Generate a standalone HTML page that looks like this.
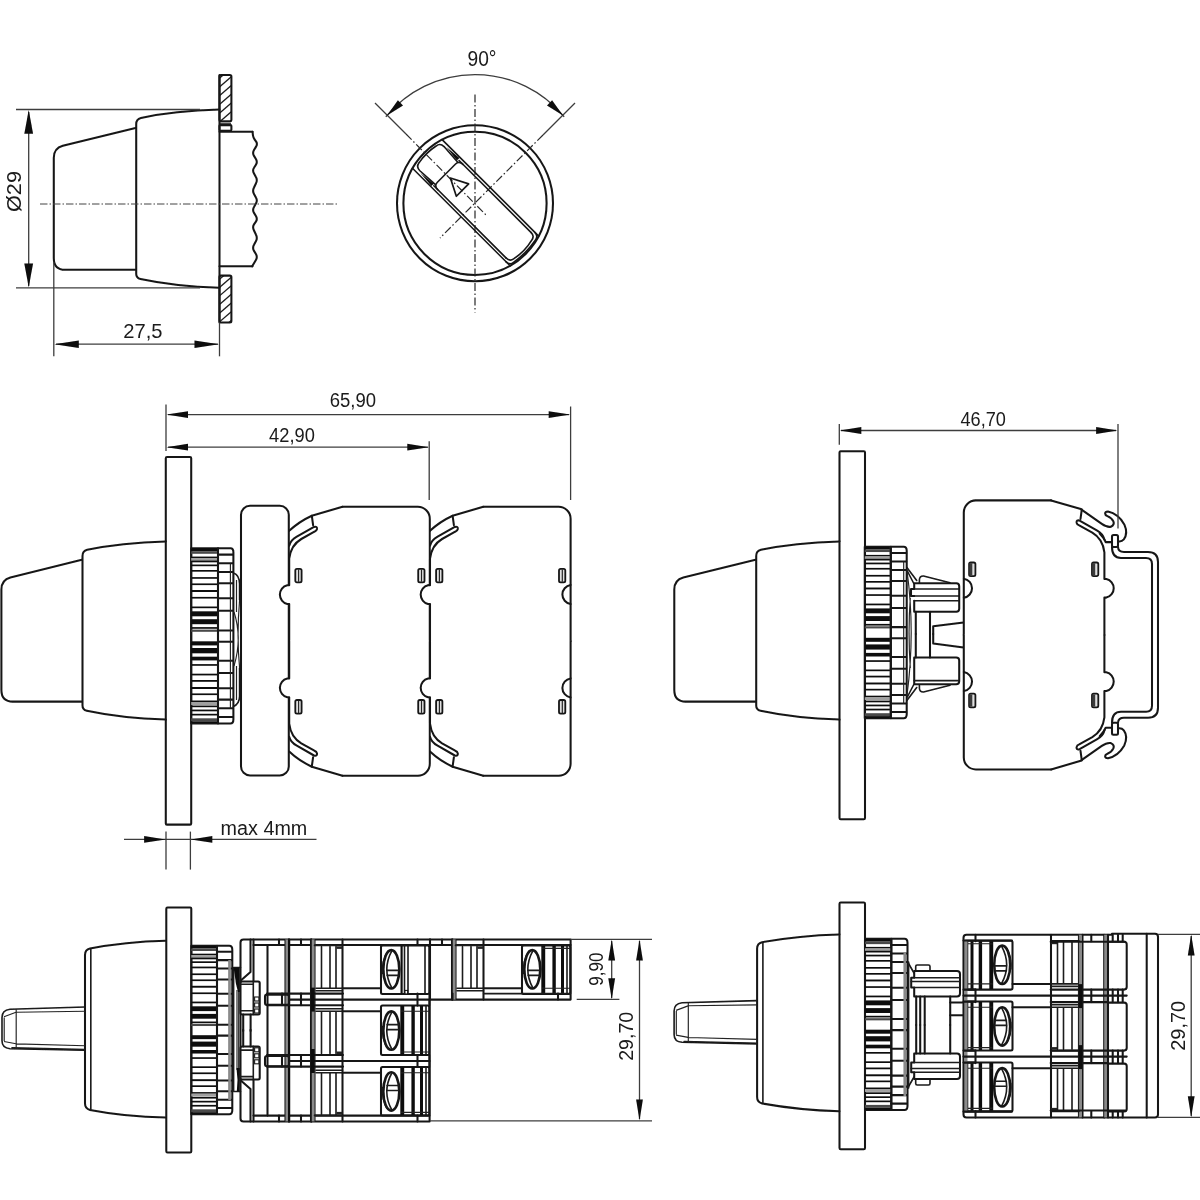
<!DOCTYPE html>
<html><head><meta charset="utf-8"><title>Dimensions</title>
<style>
html,body{margin:0;padding:0;background:#fff;}
svg{display:block}
.k{fill:none;stroke:#171717;stroke-width:2.05;stroke-linejoin:round;stroke-linecap:round}
.kf{fill:#fff;stroke:#171717;stroke-width:2.05;stroke-linejoin:round}
.m{fill:none;stroke:#1a1a1a;stroke-width:1.6;stroke-linejoin:round;stroke-linecap:round}
.n{fill:none;stroke:#222;stroke-width:1.15}
.t{fill:none;stroke:#3c3c3c;stroke-width:1.3}
.c{fill:none;stroke:#444;stroke-width:1;stroke-dasharray:7.5 2 1.5 2}
.c2{fill:none;stroke:#2a2a2a;stroke-width:1.2;stroke-dasharray:8 2.5 1.5 2.5}
.h1{fill:none;stroke:#161616;stroke-width:1.6;stroke-linejoin:round;stroke-linecap:round}
.h2{fill:none;stroke:#161616;stroke-width:1.7;stroke-linejoin:round}
.a{fill:#0a0a0a;stroke:none}
.b{fill:#111;stroke:none}
.g{fill:#555;stroke:none}
.h{fill:none;stroke:#222;stroke-width:1}
text{font-family:"Liberation Sans",sans-serif;fill:#1a1a1a}
</style></head><body>
<svg width="1200" height="1200" viewBox="0 0 1200 1200">
<rect x="0" y="0" width="1200" height="1200" fill="#fff"/>
<defs><filter id="soft" x="0" y="0" width="1200" height="1200" filterUnits="userSpaceOnUse"><feGaussianBlur stdDeviation="0.45"/></filter></defs>
<g filter="url(#soft)">
<g transform="translate(219.5,-431.8)">
<path class="k" d="M-84,559.7 L-156.7,577.5 Q-165.7,580 -165.7,589.5 V690 Q-165.7,701.6 -154.2,701.6 H-84"/>
<path class="k" d="M0,541.4 Q-45,542.6 -78.6,549.8 Q-83.3,550.9 -83.3,556 V705.5 Q-83.3,709.8 -79,710.7 Q-45,718 0,719.6"/>
</g>
<defs><clipPath id="cp1"><rect x="219.4" y="75" width="12" height="46.3"/></clipPath><clipPath id="cp2"><rect x="219.4" y="275.6" width="12" height="46.8"/></clipPath></defs>
<g clip-path="url(#cp1)">
<path d="M217.3,80.1 L233.3,66.3" stroke="#1c1c1c" stroke-width="1.3" fill="none"/>
<path d="M217.3,88.9 L233.3,75.1" stroke="#1c1c1c" stroke-width="1.3" fill="none"/>
<path d="M217.3,97.6 L233.3,83.8" stroke="#1c1c1c" stroke-width="1.3" fill="none"/>
<path d="M217.3,106.4 L233.3,92.6" stroke="#1c1c1c" stroke-width="1.3" fill="none"/>
<path d="M217.3,115.1 L233.3,101.3" stroke="#1c1c1c" stroke-width="1.3" fill="none"/>
<path d="M217.3,123.9 L233.3,110.1" stroke="#1c1c1c" stroke-width="1.3" fill="none"/>
<path d="M217.3,132.7 L233.3,118.9" stroke="#1c1c1c" stroke-width="1.3" fill="none"/>
</g>
<g clip-path="url(#cp2)">
<path d="M217.3,281.2 L233.3,267.4" stroke="#1c1c1c" stroke-width="1.3" fill="none"/>
<path d="M217.3,289.3 L233.3,275.5" stroke="#1c1c1c" stroke-width="1.3" fill="none"/>
<path d="M217.3,297.7 L233.3,283.9" stroke="#1c1c1c" stroke-width="1.3" fill="none"/>
<path d="M217.3,306.4 L233.3,292.6" stroke="#1c1c1c" stroke-width="1.3" fill="none"/>
<path d="M217.3,315.1 L233.3,301.3" stroke="#1c1c1c" stroke-width="1.3" fill="none"/>
<path d="M217.3,323.7 L233.3,309.9" stroke="#1c1c1c" stroke-width="1.3" fill="none"/>
<path d="M217.3,332.5 L233.3,318.7" stroke="#1c1c1c" stroke-width="1.3" fill="none"/>
</g>
<rect class="k" x="219.4" y="75.0" width="12.0" height="46.3" rx="1.5"/>
<rect class="k" x="219.4" y="275.6" width="12.0" height="46.8" rx="1.5"/>
<rect class="k" x="219.4" y="125.1" width="12.0" height="5.7" rx="1"/>
<path class="t" d="M220.0,123.3L231.0,123.3"/>
<path class="k" d="M219.5,75.0L219.5,322.5"/>
<path class="k" d="M219.5,131.7 H252.5"/>
<path class="k" d="M219.5,266.3 H252.5"/>
<path class="k" d="M252.5,131.7 L253.0,135.6 Q253.3,137.5 254.7,139.6 L256.3,141.9 Q257.7,144.0 255.9,146.9 L254.0,150.1 Q252.2,153.0 254.0,155.9 L255.9,159.1 Q257.7,162.0 255.9,164.7 L254.0,167.8 Q252.2,170.5 254.0,173.5 L255.9,177.0 Q257.7,180.0 255.9,183.5 L254.0,187.5 Q252.2,191.0 254.0,194.0 L255.9,197.5 Q257.7,200.5 255.9,203.5 L254.0,207.0 Q252.2,210.0 254.0,212.9 L255.9,216.1 Q257.7,219.0 255.9,221.6 L254.0,224.4 Q252.2,227.0 254.0,230.5 L255.9,234.5 Q257.7,238.0 255.9,241.2 L254.0,244.8 Q252.2,248.0 254.0,250.9 L255.9,254.1 Q257.7,257.0 255.9,260.0 L252.2,266.3"/>
<path class="c" d="M40.0,204.0L337.5,204.0"/>
<path class="t" d="M16.0,109.5L200.0,109.5"/>
<path class="t" d="M16.0,287.8L200.0,287.8"/>
<path class="t" d="M28.7,112.0L28.7,286.0"/>
<polygon class="a" points="28.7,110.0 33.1,133.7 24.3,133.7"/>
<polygon class="a" points="28.7,287.3 24.3,263.6 33.1,263.6"/>
<text x="20.6" y="212" font-size="21" textLength="41" lengthAdjust="spacingAndGlyphs" transform="rotate(-90 20.6 212)" text-anchor="start">Ø29</text>
<path class="t" d="M53.8,262.0L53.8,356.3"/>
<path class="t" d="M219.5,322.5L219.5,356.3"/>
<path class="t" d="M56.0,344.2L218.0,344.2"/>
<polygon class="a" points="54.3,344.2 78.8,340.4 78.8,348.0"/>
<polygon class="a" points="219.0,344.2 194.5,348.0 194.5,340.4"/>
<text x="123.3" y="337.5" font-size="21" textLength="39.2" lengthAdjust="spacingAndGlyphs" text-anchor="start">27,5</text>
<circle class="k" cx="475" cy="203.3" r="78"/>
<circle class="k" cx="475" cy="203.3" r="71.6"/>
<path class="c2" d="M475.0,94.5L475.0,312.5"/>
<path class="t" d="M375.0,103.0L406.0,134.0"/>
<path class="c2" d="M406,134 L486,215"/>
<path class="t" d="M575.0,103.0L543.0,135.0"/>
<path class="c2" d="M543,135 L440,238"/>
<path class="t" d="M385.8,116.8 L387,115.5 A115 115 0 0 1 563,115.5 L564.2,116.8"/>
<polygon class="a" points="387.0,115.6 397.9,100.2 403.0,105.5"/>
<polygon class="a" points="563.0,115.6 547.0,105.5 552.1,100.2"/>
<text x="467.5" y="65.6" font-size="21.5" textLength="29" lengthAdjust="spacingAndGlyphs" text-anchor="start">90°</text>
<g transform="translate(475,203.3) rotate(45)">
<path class="h1" d="M-68.3,-21.8 H68.2 M-69,19.4 H69"/>
<path class="h1" d="M-41.5,-19 H60.5 M-41.5,16.7 H60.5"/>
<path class="h1" d="M60.5,-19 Q65.5,-19 66.2,-14 Q69.5,-1 66.6,12 Q65.8,16.7 60.5,16.7"/>
<path class="h1" d="M63,-21.8 Q68.2,-21.6 68.8,-16.5 Q71.6,-1 69,14.5 Q68.5,19.4 63,19.4"/>
<path class="h1" d="M-36,-19 Q-41.5,-19 -41.5,-14 V11.7 Q-41.5,16.7 -36,16.7"/>
<path class="h1" d="M-41.5,-16.8 L-62,-18.2 Q-67.5,-18.2 -68,-13 Q-70.5,-1 -68.2,11 Q-67.5,16 -62,16 L-41.5,14.8"/>
<polygon class="b" points="-60,-19.6 -43,-21 -43,-17.4"/>
<polygon class="b" points="-60,17.3 -43,18.7 -43,15.2"/>
<path class="h2" d="M-35.3,-0.5 L-18.2,-9.2 L-18.2,8.2 Z"/>
</g>
<g transform="translate(165.8,0)">
<path class="k" d="M-84,559.7 L-155.4,577.5 Q-164.4,580 -164.4,589.5 V690 Q-164.4,701.6 -152.9,701.6 H-84"/>
<path class="k" d="M0,541.4 Q-45,542.6 -78.6,549.8 Q-83.3,550.9 -83.3,556 V705.5 Q-83.3,709.8 -79,710.7 Q-45,718 0,719.6"/>
</g>
<rect class="k" x="165.8" y="457.0" width="25.4" height="367.6" rx="1.2"/>
<rect class="k" x="191.2" y="548.3" width="26.8" height="175.2"/>
<rect x="191.2" y="548.3" width="26.8" height="2.90" fill="#111"/>
<rect x="191.2" y="551.2" width="26.8" height="2.60" fill="#4a4a4a"/>
<rect x="191.2" y="556.6" width="26.8" height="1.70" fill="#111"/>
<rect x="191.2" y="558.0" width="26.8" height="3.00" fill="#a0a0a0"/>
<rect x="191.2" y="560.6" width="26.8" height="1.70" fill="#111"/>
<rect x="191.2" y="564.5" width="26.8" height="1.70" fill="#111"/>
<rect x="191.2" y="570.0" width="26.8" height="1.70" fill="#111"/>
<rect x="191.2" y="577.1" width="26.8" height="1.70" fill="#111"/>
<rect x="191.2" y="583.4" width="26.8" height="1.70" fill="#111"/>
<rect x="191.2" y="590.0" width="26.8" height="2.00" fill="#111"/>
<rect x="191.2" y="596.9" width="26.8" height="1.70" fill="#111"/>
<rect x="191.2" y="606.5" width="26.8" height="1.70" fill="#111"/>
<rect x="191.2" y="611.3" width="26.8" height="5.00" fill="#111"/>
<rect x="191.2" y="619.2" width="26.8" height="5.00" fill="#111"/>
<rect x="191.2" y="627.1" width="26.8" height="1.70" fill="#111"/>
<rect x="191.2" y="629.6" width="26.8" height="2.20" fill="#4a4a4a"/>
<rect x="191.2" y="641.3" width="26.8" height="4.10" fill="#111"/>
<rect x="191.2" y="648.0" width="26.8" height="5.30" fill="#111"/>
<rect x="191.2" y="656.7" width="26.8" height="3.70" fill="#111"/>
<rect x="191.2" y="664.1" width="26.8" height="1.70" fill="#111"/>
<rect x="191.2" y="673.7" width="26.8" height="1.70" fill="#111"/>
<rect x="191.2" y="680.0" width="26.8" height="1.80" fill="#111"/>
<rect x="191.2" y="687.0" width="26.8" height="2.00" fill="#111"/>
<rect x="191.2" y="693.4" width="26.8" height="1.70" fill="#111"/>
<rect x="191.2" y="700.5" width="26.8" height="1.70" fill="#111"/>
<rect x="191.2" y="702.0" width="26.8" height="3.00" fill="#a0a0a0"/>
<rect x="191.2" y="705.5" width="26.8" height="1.70" fill="#111"/>
<rect x="191.2" y="709.6" width="26.8" height="1.70" fill="#111"/>
<rect x="191.2" y="713.8" width="26.8" height="1.70" fill="#111"/>
<rect x="191.2" y="718.3" width="26.8" height="3.00" fill="#4a4a4a"/>
<rect x="191.2" y="721.3" width="26.8" height="2.20" fill="#111"/>
<path class="k" d="M218,548.3 H230.4 Q233.4,548.3 233.4,552.3 V719.5 Q233.4,723.5 230.4,723.5 H218 Z"/>
<path class="k" d="M218.0,554.6L232.9,554.6"/>
<path class="k" d="M218.0,563.3L232.9,563.3"/>
<path class="k" d="M218.0,572.0L232.9,572.0"/>
<path class="k" d="M218.0,583.3L232.9,583.3"/>
<path class="k" d="M218.0,598.3L232.9,598.3"/>
<path class="k" d="M218.0,610.8L232.9,610.8"/>
<path class="k" d="M218.0,630.4L232.9,630.4"/>
<path class="k" d="M218.0,641.7L232.9,641.7"/>
<path class="k" d="M218.0,660.8L232.9,660.8"/>
<path class="k" d="M218.0,673.0L232.9,673.0"/>
<path class="k" d="M218.0,688.3L232.9,688.3"/>
<path class="k" d="M218.0,699.6L232.9,699.6"/>
<path class="k" d="M218.0,708.3L232.9,708.3"/>
<path class="k" d="M218.0,717.0L232.9,717.0"/>
<path class="n" d="M230.4,563.3L230.4,708.3"/>
<path class="m" d="M233.4,573 Q239.5,575 239.6,584 V600 M233.4,706.5 Q239.5,704 239.6,696 V668"/>
<path class="n" d="M234,612 Q242.5,638 234,666 M239.6,600 Q236.5,636 239.6,668"/>
<path class="n" d="M236.5,580 V612 M236.5,666 V700"/>
<rect class="k" x="241.0" y="505.8" width="47.8" height="269.6" rx="9"/>
<g transform="translate(288.8,506.7) scale(1,1)">
<path d="M1.3,135 V97 H-1.5 A9.3 9.3 0 0 1 -1.5,78.5 H1.3 V25 Q10,15 23,9 L53.7,0 H129 A12 12 0 0 1 141,12 V135 Z" fill="#fff" stroke="none"/>
<path class="k" d="M53.7,0 H129 A12 12 0 0 1 141,12 V134.5"/>
<path class="k" d="M53.7,0 L23,9 Q10,15 0.4,24.1"/>
<path class="k" d="M23,9 L24.3,18.5"/>
<path class="k" d="M0.4,39 Q1.8,33.5 8,30 L25.2,20.2 Q28.6,19.3 28.2,22.3 Q27.8,24.2 25.6,25 L12.5,32.3 Q2,38.5 0.4,52 V78.5 H-1.5 A9.6 9.6 0 0 0 -1.5,97.2 H0.4 V134.5"/>
<path class="k" d="M141,78.3 A9.6 9.6 0 0 0 141,97.3"/>
<rect x="6.5" y="62.1" width="6.3" height="13.6" rx="1.6" fill="#e0e0e0" stroke="#171717" stroke-width="1.8"/>
<path class="n" d="M9.8,62.8L9.8,75.0"/>
<rect x="129.4" y="62.1" width="6.3" height="13.6" rx="1.6" fill="#e0e0e0" stroke="#171717" stroke-width="1.8"/>
<path class="n" d="M132.7,62.8L132.7,75.0"/>
<g transform="translate(0,269) scale(1,-1)">
<path d="M1.3,135 V97 H-1.5 A9.3 9.3 0 0 1 -1.5,78.5 H1.3 V25 Q10,15 23,9 L53.7,0 H129 A12 12 0 0 1 141,12 V135 Z" fill="#fff" stroke="none"/>
<path class="k" d="M53.7,0 H129 A12 12 0 0 1 141,12 V134.5"/>
<path class="k" d="M53.7,0 L23,9 Q10,15 0.4,24.1"/>
<path class="k" d="M23,9 L24.3,18.5"/>
<path class="k" d="M0.4,39 Q1.8,33.5 8,30 L25.2,20.2 Q28.6,19.3 28.2,22.3 Q27.8,24.2 25.6,25 L12.5,32.3 Q2,38.5 0.4,52 V78.5 H-1.5 A9.6 9.6 0 0 0 -1.5,97.2 H0.4 V134.5"/>
<path class="k" d="M141,78.3 A9.6 9.6 0 0 0 141,97.3"/>
<rect x="6.5" y="62.1" width="6.3" height="13.6" rx="1.6" fill="#e0e0e0" stroke="#171717" stroke-width="1.8"/>
<path class="n" d="M9.8,62.8L9.8,75.0"/>
<rect x="129.4" y="62.1" width="6.3" height="13.6" rx="1.6" fill="#e0e0e0" stroke="#171717" stroke-width="1.8"/>
<path class="n" d="M132.7,62.8L132.7,75.0"/>
</g></g>
<g transform="translate(429.6,506.7) scale(1,1)">
<path d="M1.3,135 V97 H-1.5 A9.3 9.3 0 0 1 -1.5,78.5 H1.3 V25 Q10,15 23,9 L53.7,0 H129 A12 12 0 0 1 141,12 V135 Z" fill="#fff" stroke="none"/>
<path class="k" d="M53.7,0 H129 A12 12 0 0 1 141,12 V134.5"/>
<path class="k" d="M53.7,0 L23,9 Q10,15 0.4,24.1"/>
<path class="k" d="M23,9 L24.3,18.5"/>
<path class="k" d="M0.4,39 Q1.8,33.5 8,30 L25.2,20.2 Q28.6,19.3 28.2,22.3 Q27.8,24.2 25.6,25 L12.5,32.3 Q2,38.5 0.4,52 V78.5 H-1.5 A9.6 9.6 0 0 0 -1.5,97.2 H0.4 V134.5"/>
<path class="k" d="M141,78.3 A9.6 9.6 0 0 0 141,97.3"/>
<rect x="6.5" y="62.1" width="6.3" height="13.6" rx="1.6" fill="#e0e0e0" stroke="#171717" stroke-width="1.8"/>
<path class="n" d="M9.8,62.8L9.8,75.0"/>
<rect x="129.4" y="62.1" width="6.3" height="13.6" rx="1.6" fill="#e0e0e0" stroke="#171717" stroke-width="1.8"/>
<path class="n" d="M132.7,62.8L132.7,75.0"/>
<g transform="translate(0,269) scale(1,-1)">
<path d="M1.3,135 V97 H-1.5 A9.3 9.3 0 0 1 -1.5,78.5 H1.3 V25 Q10,15 23,9 L53.7,0 H129 A12 12 0 0 1 141,12 V135 Z" fill="#fff" stroke="none"/>
<path class="k" d="M53.7,0 H129 A12 12 0 0 1 141,12 V134.5"/>
<path class="k" d="M53.7,0 L23,9 Q10,15 0.4,24.1"/>
<path class="k" d="M23,9 L24.3,18.5"/>
<path class="k" d="M0.4,39 Q1.8,33.5 8,30 L25.2,20.2 Q28.6,19.3 28.2,22.3 Q27.8,24.2 25.6,25 L12.5,32.3 Q2,38.5 0.4,52 V78.5 H-1.5 A9.6 9.6 0 0 0 -1.5,97.2 H0.4 V134.5"/>
<path class="k" d="M141,78.3 A9.6 9.6 0 0 0 141,97.3"/>
<rect x="6.5" y="62.1" width="6.3" height="13.6" rx="1.6" fill="#e0e0e0" stroke="#171717" stroke-width="1.8"/>
<path class="n" d="M9.8,62.8L9.8,75.0"/>
<rect x="129.4" y="62.1" width="6.3" height="13.6" rx="1.6" fill="#e0e0e0" stroke="#171717" stroke-width="1.8"/>
<path class="n" d="M132.7,62.8L132.7,75.0"/>
</g></g>
<path class="t" d="M166.0,404.5L166.0,451.0"/>
<path class="t" d="M429.2,441.3L429.2,500.0"/>
<path class="t" d="M570.6,406.5L570.6,500.0"/>
<path class="t" d="M168.0,414.6L569.0,414.6"/>
<path class="t" d="M168.0,447.2L428.0,447.2"/>
<polygon class="a" points="166.5,414.6 188.0,411.2 188.0,418.0"/>
<polygon class="a" points="570.2,414.6 548.7,418.0 548.7,411.2"/>
<polygon class="a" points="166.5,447.2 188.0,443.8 188.0,450.6"/>
<polygon class="a" points="428.8,447.2 407.3,450.6 407.3,443.8"/>
<text x="329.8" y="406.6" font-size="19.5" textLength="46.3" lengthAdjust="spacingAndGlyphs" text-anchor="start">65,90</text>
<text x="269.1" y="441.7" font-size="19.5" textLength="45.7" lengthAdjust="spacingAndGlyphs" text-anchor="start">42,90</text>
<path class="t" d="M124.0,839.4L316.5,839.4"/>
<path class="t" d="M166.0,831.6L166.0,869.6"/>
<path class="t" d="M190.4,831.6L190.4,869.6"/>
<polygon class="a" points="165.6,839.4 144.1,842.8 144.1,836.0"/>
<polygon class="a" points="190.8,839.4 212.3,836.0 212.3,842.8"/>
<text x="220.6" y="835.4" font-size="19.5" textLength="86.7" lengthAdjust="spacingAndGlyphs" text-anchor="start">max 4mm</text>
<g transform="translate(839.5,0)">
<path class="k" d="M-84,559.7 L-156.2,577.5 Q-165.2,580 -165.2,589.5 V690 Q-165.2,701.6 -153.7,701.6 H-84"/>
<path class="k" d="M0,541.4 Q-45,542.6 -78.6,549.8 Q-83.3,550.9 -83.3,556 V705.5 Q-83.3,709.8 -79,710.7 Q-45,718 0,719.6"/>
</g>
<rect class="k" x="839.5" y="451.3" width="25.5" height="368.0" rx="1.2"/>
<rect class="k" x="864.8" y="546.7" width="26.0" height="171.6"/>
<rect x="864.8" y="546.7" width="26.0" height="2.84" fill="#111"/>
<rect x="864.8" y="549.5" width="26.0" height="2.55" fill="#4a4a4a"/>
<rect x="864.8" y="554.9" width="26.0" height="1.70" fill="#111"/>
<rect x="864.8" y="556.2" width="26.0" height="2.94" fill="#a0a0a0"/>
<rect x="864.8" y="558.8" width="26.0" height="1.70" fill="#111"/>
<rect x="864.8" y="562.6" width="26.0" height="1.70" fill="#111"/>
<rect x="864.8" y="567.9" width="26.0" height="1.70" fill="#111"/>
<rect x="864.8" y="574.9" width="26.0" height="1.70" fill="#111"/>
<rect x="864.8" y="581.0" width="26.0" height="1.70" fill="#111"/>
<rect x="864.8" y="587.5" width="26.0" height="1.96" fill="#111"/>
<rect x="864.8" y="594.2" width="26.0" height="1.70" fill="#111"/>
<rect x="864.8" y="603.6" width="26.0" height="1.70" fill="#111"/>
<rect x="864.8" y="608.4" width="26.0" height="4.90" fill="#111"/>
<rect x="864.8" y="616.1" width="26.0" height="4.90" fill="#111"/>
<rect x="864.8" y="623.9" width="26.0" height="1.70" fill="#111"/>
<rect x="864.8" y="626.3" width="26.0" height="2.15" fill="#4a4a4a"/>
<rect x="864.8" y="637.8" width="26.0" height="4.02" fill="#111"/>
<rect x="864.8" y="644.4" width="26.0" height="5.19" fill="#111"/>
<rect x="864.8" y="652.9" width="26.0" height="3.62" fill="#111"/>
<rect x="864.8" y="660.2" width="26.0" height="1.70" fill="#111"/>
<rect x="864.8" y="669.5" width="26.0" height="1.70" fill="#111"/>
<rect x="864.8" y="675.7" width="26.0" height="1.76" fill="#111"/>
<rect x="864.8" y="682.5" width="26.0" height="1.96" fill="#111"/>
<rect x="864.8" y="688.8" width="26.0" height="1.70" fill="#111"/>
<rect x="864.8" y="695.7" width="26.0" height="1.70" fill="#111"/>
<rect x="864.8" y="697.2" width="26.0" height="2.94" fill="#a0a0a0"/>
<rect x="864.8" y="700.6" width="26.0" height="1.70" fill="#111"/>
<rect x="864.8" y="704.6" width="26.0" height="1.70" fill="#111"/>
<rect x="864.8" y="708.7" width="26.0" height="1.70" fill="#111"/>
<rect x="864.8" y="713.2" width="26.0" height="2.94" fill="#4a4a4a"/>
<rect x="864.8" y="716.1" width="26.0" height="2.15" fill="#111"/>
<path class="k" d="M890.8,546.7 H903.7 Q906.7,546.7 906.7,550.7 V714.3 Q906.7,718.3 903.7,718.3 H890.8 Z"/>
<path class="k" d="M890.8,552.9L906.2,552.9"/>
<path class="k" d="M890.8,561.4L906.2,561.4"/>
<path class="k" d="M890.8,569.9L906.2,569.9"/>
<path class="k" d="M890.8,581.0L906.2,581.0"/>
<path class="k" d="M890.8,595.7L906.2,595.7"/>
<path class="k" d="M890.8,607.9L906.2,607.9"/>
<path class="k" d="M890.8,627.1L906.2,627.1"/>
<path class="k" d="M890.8,638.2L906.2,638.2"/>
<path class="k" d="M890.8,656.9L906.2,656.9"/>
<path class="k" d="M890.8,668.8L906.2,668.8"/>
<path class="k" d="M890.8,683.8L906.2,683.8"/>
<path class="k" d="M890.8,694.9L906.2,694.9"/>
<path class="k" d="M890.8,703.4L906.2,703.4"/>
<path class="k" d="M890.8,711.9L906.2,711.9"/>
<path class="n" d="M903.7,561.4L903.7,703.4"/>
<g>
<path class="n" d="M906.9,570 Q915.5,632 906.9,696 M910.3,598 Q907.8,632 910.3,668"/>
<path class="m" d="M906.9,567.5 L916.7,580.5 M907.3,571 L913.8,583.5"/>
<path class="m" d="M919.4,583.3 V579.5 Q919.8,575.8 923.5,576 L950,582.7"/>
<path class="k" d="M914.2,583.3 H956.2 Q959.2,583.3 959.2,586.3 V608.7 Q959.2,611.7 956.2,611.7 H914.2 V600.8 M914.2,583.3 V589 H911 V596 H914.2"/>
<path class="m" d="M914.2,589 H958.8 M911,596 H959 M914.2,600.8 H958.8"/>
<path class="k" d="M915.8,611.7 V634 M930,611.7 V634"/>
<path class="k" d="M963.6,622.5 L933.2,626.2 V634"/>
<path class="m" d="M906.9,700.5 L916.7,687.5 M907.3,697 L913.8,684.5"/>
<path class="m" d="M919.4,684.7 V688.5 Q919.8,692.2 923.5,692 L950,685.3"/>
<path class="k" d="M914.2,657.5 H956.2 Q959.2,657.5 959.2,660.5 V681.2 Q959.2,684.2 956.2,684.2 H914.2 Z"/>
<path class="m" d="M914.2,680.6 H958.8"/>
<path class="k" d="M915.8,657.5 V634 M930,657.5 V634"/>
<path class="k" d="M963.6,647.5 L933.2,643.4 V634"/>
</g>
<g transform="translate(1104.8,500.4) scale(-1,1)">
<path d="M1.3,135 V97 H-1.5 A9.3 9.3 0 0 1 -1.5,78.5 H1.3 V25 Q10,15 23,9 L53.7,0 H129 A12 12 0 0 1 141,12 V135 Z" fill="#fff" stroke="none"/>
<path class="k" d="M53.7,0 H129 A12 12 0 0 1 141,12 V134.5"/>
<path class="k" d="M53.7,0 L24,8.7 L3,23.5 Q-2.5,27.2 -6,26.3 Q-10,24.5 -8.6,21 Q-7,17.5 -2.6,15.7 Q-0.3,14.9 -0.3,13.2 Q-0.4,11.2 -3.2,11.2 Q-13.5,13.5 -19.5,24 Q-23.5,33 -19,39 Q-17,41.5 -13.5,41"/>
<path class="k" d="M5.1,33.2 Q0.5,38 -0.9,41.7 H-7"/>
<path class="k" d="M23,9 L24.3,18.5"/>
<path class="k" d="M0.4,39 Q1.8,33.5 8,30 L25.2,20.2 Q28.6,19.3 28.2,22.3 Q27.8,24.2 25.6,25 L12.5,32.3 Q2,38.5 0.4,52 V78.5 H-1.5 A9.6 9.6 0 0 0 -1.5,97.2 H0.4 V134.5"/>
<path class="k" d="M141,78.3 A9.6 9.6 0 0 0 141,97.3"/>
<rect x="6.5" y="62.1" width="6.3" height="13.6" rx="1.6" fill="#e0e0e0" stroke="#171717" stroke-width="1.8"/>
<rect x="9.6" y="62.8" width="3" height="12.2" fill="#3a3a3a"/>
<rect x="129.4" y="62.1" width="6.3" height="13.6" rx="1.6" fill="#e0e0e0" stroke="#171717" stroke-width="1.8"/>
<rect x="132.5" y="62.8" width="3" height="12.2" fill="#3a3a3a"/>
<g transform="translate(0,269) scale(1,-1)">
<path d="M1.3,135 V97 H-1.5 A9.3 9.3 0 0 1 -1.5,78.5 H1.3 V25 Q10,15 23,9 L53.7,0 H129 A12 12 0 0 1 141,12 V135 Z" fill="#fff" stroke="none"/>
<path class="k" d="M53.7,0 H129 A12 12 0 0 1 141,12 V134.5"/>
<path class="k" d="M53.7,0 L24,8.7 L3,23.5 Q-2.5,27.2 -6,26.3 Q-10,24.5 -8.6,21 Q-7,17.5 -2.6,15.7 Q-0.3,14.9 -0.3,13.2 Q-0.4,11.2 -3.2,11.2 Q-13.5,13.5 -19.5,24 Q-23.5,33 -19,39 Q-17,41.5 -13.5,41"/>
<path class="k" d="M5.1,33.2 Q0.5,38 -0.9,41.7 H-7"/>
<path class="k" d="M23,9 L24.3,18.5"/>
<path class="k" d="M0.4,39 Q1.8,33.5 8,30 L25.2,20.2 Q28.6,19.3 28.2,22.3 Q27.8,24.2 25.6,25 L12.5,32.3 Q2,38.5 0.4,52 V78.5 H-1.5 A9.6 9.6 0 0 0 -1.5,97.2 H0.4 V134.5"/>
<path class="k" d="M141,78.3 A9.6 9.6 0 0 0 141,97.3"/>
<rect x="6.5" y="62.1" width="6.3" height="13.6" rx="1.6" fill="#e0e0e0" stroke="#171717" stroke-width="1.8"/>
<rect x="9.6" y="62.8" width="3" height="12.2" fill="#3a3a3a"/>
<rect x="129.4" y="62.1" width="6.3" height="13.6" rx="1.6" fill="#e0e0e0" stroke="#171717" stroke-width="1.8"/>
<rect x="132.5" y="62.8" width="3" height="12.2" fill="#3a3a3a"/>
</g></g>
<rect class="k" x="1112.0" y="535.0" width="6.0" height="12.0" rx="1.5"/>
<path class="k" d="M1118,547 Q1118.3,552 1124,552 H1148 Q1158,552 1158,562 V635"/>
<path class="k" d="M1112,547 Q1112,558 1121,558 H1146 Q1152,558 1152,564 V635"/>
<g transform="translate(0,1269.8) scale(1,-1)">
<rect class="k" x="1112.0" y="535.0" width="6.0" height="12.0" rx="1.5"/>
<path class="k" d="M1118,547 Q1118.3,552 1124,552 H1148 Q1158,552 1158,562 V635"/>
<path class="k" d="M1112,547 Q1112,558 1121,558 H1146 Q1152,558 1152,564 V635"/>
</g>
<path class="t" d="M839.3,424.0L839.3,444.7"/>
<path class="t" d="M1118.0,424.0L1118.0,528.5"/>
<path class="t" d="M841.0,430.5L1116.0,430.5"/>
<polygon class="a" points="839.8,430.5 861.3,427.1 861.3,433.9"/>
<polygon class="a" points="1117.6,430.5 1096.1,433.9 1096.1,427.1"/>
<text x="960.5" y="426" font-size="19.5" textLength="45.4" lengthAdjust="spacingAndGlyphs" text-anchor="start">46,70</text>
<g transform="translate(0,0)">
<path class="k" d="M165.8,940.8 Q125,941.8 90,948.6 Q85,949.8 85,955 V1103.5 Q85,1108.6 90,1109.9 Q125,1116.6 165.8,1117.6"/>
<path class="m" d="M90.8,949 V1109.6"/>
<g transform="translate(0,0)">
<path class="m" d="M85,1007 L10,1009.2 Q2,1010 2,1017.5 V1040.8 Q2,1048 10,1048.7 L85,1050.3"/>
<path class="m" d="M85,1049.6 L12,1047.9"/>
<path class="n" d="M16.5,1012.2 L85,1011.3 M16.5,1043.9 L85,1045.8 M16.2,1009.3 V1048.7"/>
<path class="n" d="M4.2,1017.5 V1041 M4,1016.8 L16,1012.3 M4,1041.5 L16,1043.8"/>
</g></g>
<rect class="k" x="166.3" y="907.5" width="25.0" height="245.0" rx="1.2"/>
<rect class="k" x="191.3" y="945.7" width="25.7" height="168.6"/>
<rect x="191.3" y="945.7" width="25.7" height="2.79" fill="#111"/>
<rect x="191.3" y="948.5" width="25.7" height="2.50" fill="#4a4a4a"/>
<rect x="191.3" y="953.7" width="25.7" height="1.70" fill="#111"/>
<rect x="191.3" y="955.0" width="25.7" height="2.89" fill="#a0a0a0"/>
<rect x="191.3" y="957.6" width="25.7" height="1.70" fill="#111"/>
<rect x="191.3" y="961.3" width="25.7" height="1.70" fill="#111"/>
<rect x="191.3" y="966.6" width="25.7" height="1.70" fill="#111"/>
<rect x="191.3" y="973.4" width="25.7" height="1.70" fill="#111"/>
<rect x="191.3" y="979.4" width="25.7" height="1.70" fill="#111"/>
<rect x="191.3" y="985.8" width="25.7" height="1.92" fill="#111"/>
<rect x="191.3" y="992.4" width="25.7" height="1.70" fill="#111"/>
<rect x="191.3" y="1001.6" width="25.7" height="1.70" fill="#111"/>
<rect x="191.3" y="1006.3" width="25.7" height="4.81" fill="#111"/>
<rect x="191.3" y="1013.9" width="25.7" height="4.81" fill="#111"/>
<rect x="191.3" y="1021.5" width="25.7" height="1.70" fill="#111"/>
<rect x="191.3" y="1023.9" width="25.7" height="2.12" fill="#4a4a4a"/>
<rect x="191.3" y="1035.2" width="25.7" height="3.95" fill="#111"/>
<rect x="191.3" y="1041.6" width="25.7" height="5.10" fill="#111"/>
<rect x="191.3" y="1050.0" width="25.7" height="3.56" fill="#111"/>
<rect x="191.3" y="1057.2" width="25.7" height="1.70" fill="#111"/>
<rect x="191.3" y="1066.3" width="25.7" height="1.70" fill="#111"/>
<rect x="191.3" y="1072.4" width="25.7" height="1.73" fill="#111"/>
<rect x="191.3" y="1079.2" width="25.7" height="1.92" fill="#111"/>
<rect x="191.3" y="1085.3" width="25.7" height="1.70" fill="#111"/>
<rect x="191.3" y="1092.1" width="25.7" height="1.70" fill="#111"/>
<rect x="191.3" y="1093.6" width="25.7" height="2.89" fill="#a0a0a0"/>
<rect x="191.3" y="1096.9" width="25.7" height="1.70" fill="#111"/>
<rect x="191.3" y="1100.8" width="25.7" height="1.70" fill="#111"/>
<rect x="191.3" y="1104.9" width="25.7" height="1.70" fill="#111"/>
<rect x="191.3" y="1109.3" width="25.7" height="2.89" fill="#4a4a4a"/>
<rect x="191.3" y="1112.2" width="25.7" height="2.12" fill="#111"/>
<path class="k" d="M217,945.7 H229.3 Q232.3,945.7 232.3,949.7 V1110.3 Q232.3,1114.3 229.3,1114.3 H217 Z"/>
<path class="k" d="M217.0,951.8L231.8,951.8"/>
<path class="k" d="M217.0,960.1L231.8,960.1"/>
<path class="k" d="M217.0,968.5L231.8,968.5"/>
<path class="k" d="M217.0,979.4L231.8,979.4"/>
<path class="k" d="M217.0,993.8L231.8,993.8"/>
<path class="k" d="M217.0,1005.8L231.8,1005.8"/>
<path class="k" d="M217.0,1024.7L231.8,1024.7"/>
<path class="k" d="M217.0,1035.6L231.8,1035.6"/>
<path class="k" d="M217.0,1054.0L231.8,1054.0"/>
<path class="k" d="M217.0,1065.7L231.8,1065.7"/>
<path class="k" d="M217.0,1080.4L231.8,1080.4"/>
<path class="k" d="M217.0,1091.3L231.8,1091.3"/>
<path class="k" d="M217.0,1099.7L231.8,1099.7"/>
<path class="k" d="M217.0,1108.0L231.8,1108.0"/>
<path class="n" d="M229.3,960.1L229.3,1099.7"/>
<path class="m" d="M233.6,967.5 V1091.5 M233.6,967.5 H240.5 M233.6,1091.5 H240.5"/>
<path class="n" d="M237,990 V1070 M238.7,990 V1070"/>
<polygon class="b" points="233.6,967.6 239.8,967.6 240,992 238,992 236,984"/>
<polygon class="b" points="236.5,1068 240,1068 239.8,1091.4 236.8,1091.4 237.5,1080"/>
<rect x="228.3" y="960" width="2.6" height="140" fill="#8a8a8a"/>
<path class="k" d="M570.6,939.4 H243.5 Q240.5,939.4 240.5,942.4 V1118.4 Q240.5,1121.4 243.5,1121.4 H429.6 V999.6 H570.6 Z"/>
<path class="k" d="M250.5,939.4 V972 L240.5,980.8 M253.5,939.4 V981 M250.5,1121.4 V1089 L240.5,1080.2 M253.5,1121.4 V1080"/>
<path class="k" d="M253.5,945.0 H570.6 M253.5,1115.6000000000001 H429.6"/>
<path class="k" d="M279.0,939.4L279.0,945.0"/>
<path class="k" d="M289.0,939.4L289.0,945.0"/>
<path class="k" d="M301.0,939.4L301.0,945.0"/>
<path class="k" d="M311.5,939.4L311.5,945.0"/>
<path class="k" d="M417.5,939.4L417.5,945.0"/>
<path class="k" d="M430.0,939.4L430.0,945.0"/>
<path class="k" d="M442.0,939.4L442.0,945.0"/>
<path class="k" d="M452.5,939.4L452.5,945.0"/>
<path class="k" d="M279.0,1115.6L279.0,1121.4"/>
<path class="k" d="M289.0,1115.6L289.0,1121.4"/>
<path class="k" d="M301.0,1115.6L301.0,1121.4"/>
<path class="k" d="M311.5,1115.6L311.5,1121.4"/>
<path class="k" d="M417.5,1115.6L417.5,1121.4"/>
<path class="k" d="M267.5,945.0L267.5,1115.6"/>
<rect x="285" y="939.4" width="3.2" height="182.0000000000001" fill="#8a8a8a"/>
<path class="n" d="M285.0,939.4L285.0,1121.4"/>
<path class="k" d="M289.0,939.4L289.0,1121.4"/>
<rect x="288.2" y="939.4" width="2" height="182.0000000000001" fill="#111"/>
<path class="k" d="M342.5,939.4L342.5,1121.4"/>
<path class="k" d="M311.0,939.4L311.0,1121.4"/>
<rect x="311.8" y="939.4" width="3" height="182.0000000000001" fill="#8a8a8a"/>
<path class="n" d="M315.0,939.4L315.0,1121.4"/>
<path class="k" d="M483.5,939.4L483.5,999.6"/>
<path class="k" d="M452.0,939.4L452.0,999.6"/>
<rect x="452.8" y="939.4" width="3" height="60.200000000000045" fill="#8a8a8a"/>
<path class="n" d="M456.0,939.4L456.0,999.6"/>
<path class="k" d="M430.0,939.4L430.0,999.6"/>
<g transform="translate(289,939.4) translate(0,60.5) scale(1,-1)">
<rect class="k" x="92.0" y="6.0" width="48.3" height="48.5" rx="1.5"/>
<path class="k" d="M53.5,11.7 H92"/>
<path class="m" d="M32.5,11.7 V53.0 M41,11.7 V53.0 M47,11.7 V53.0 M27,11.7 H53.5 M27,9.2 H53.5 M25.5,54.5 H53.5"/>
<rect x="47.5" y="51.0" width="6" height="2.5" fill="#222"/>
<rect x="111.5" y="6" width="2.2" height="48.5" fill="#111"/>
<path class="m" d="M115.5,6 V54.5 M119,6 V54.5 M136,6 V54.5"/>
<rect x="116" y="6" width="2.6" height="3.5" fill="#fff" stroke="#111" stroke-width="1"/>
<g transform="translate(102.3,30.55) scale(1,1)">
<ellipse cx="0" cy="0" rx="8" ry="19.2" fill="none" stroke="#151515" stroke-width="2.6"/>
<path class="m" d="M0.5,-18.5 Q-9.5,0 0.5,18.5"/>
<path class="m" d="M-4.2,-6 H7.6 M-4.2,-1 H7.6"/>
<path class="m" d="M-8.6,-4 Q-9.4,8 -4.5,16.5"/>
</g>
</g>
<g transform="translate(289,999.6)">
<rect class="k" x="92.0" y="6.0" width="48.3" height="49.4" rx="1.5"/>
<path class="k" d="M53.5,11.7 H92"/>
<path class="m" d="M32.5,11.7 V53.9 M41,11.7 V53.9 M47,11.7 V53.9 M27,11.7 H53.5 M27,9.2 H53.5 M25.5,55.4 H53.5"/>
<rect x="47.5" y="51.9" width="6" height="2.5" fill="#222"/>
<rect x="111.3" y="6" width="3.9000000000000057" height="49.4" fill="#111"/>
<rect x="122.4" y="6" width="3.3999999999999915" height="49.4" fill="#111"/>
<rect x="131" y="6" width="3" height="49.4" fill="#111"/>
<path class="m" d="M137,6 V55.4"/>
<path class="n" d="M112,11.7 H140 M112,52.4 H140"/>
<g transform="translate(102.3,31.0) scale(1,1)">
<ellipse cx="0" cy="0" rx="8" ry="19.2" fill="none" stroke="#151515" stroke-width="2.6"/>
<path class="m" d="M0.5,-18.5 Q-9.5,0 0.5,18.5"/>
<path class="m" d="M-4.2,-6 H7.6 M-4.2,-1 H7.6"/>
<path class="m" d="M-8.6,-4 Q-9.4,8 -4.5,16.5"/>
</g>
</g>
<g transform="translate(289,1061)">
<rect class="k" x="92.0" y="6.0" width="48.3" height="48.4" rx="1.5"/>
<path class="k" d="M53.5,11.7 H92"/>
<path class="m" d="M32.5,11.7 V52.9 M41,11.7 V52.9 M47,11.7 V52.9 M27,11.7 H53.5 M27,9.2 H53.5 M25.5,54.4 H53.5"/>
<rect x="47.5" y="50.9" width="6" height="2.5" fill="#222"/>
<rect x="111.3" y="6" width="3.9000000000000057" height="48.4" fill="#111"/>
<rect x="122.4" y="6" width="3.3999999999999915" height="48.4" fill="#111"/>
<rect x="131" y="6" width="3" height="48.4" fill="#111"/>
<path class="m" d="M137,6 V54.4"/>
<path class="n" d="M112,11.7 H140 M112,51.4 H140"/>
<g transform="translate(102.3,30.5) scale(1,1)">
<ellipse cx="0" cy="0" rx="8" ry="19.2" fill="none" stroke="#151515" stroke-width="2.6"/>
<path class="m" d="M0.5,-18.5 Q-9.5,0 0.5,18.5"/>
<path class="m" d="M-4.2,-6 H7.6 M-4.2,-1 H7.6"/>
<path class="m" d="M-8.6,-4 Q-9.4,8 -4.5,16.5"/>
</g>
</g>
<g transform="translate(430,939.4) translate(0,60.5) scale(1,-1)">
<rect class="k" x="92.0" y="6.0" width="48.3" height="48.5" rx="1.5"/>
<path class="k" d="M53.5,11.7 H92"/>
<path class="m" d="M32.5,11.7 V53.0 M41,11.7 V53.0 M47,11.7 V53.0 M27,11.7 H53.5 M27,9.2 H53.5 M25.5,54.5 H53.5"/>
<rect x="47.5" y="51.0" width="6" height="2.5" fill="#222"/>
<rect x="111.3" y="6" width="3.9000000000000057" height="48.5" fill="#111"/>
<rect x="122.4" y="6" width="3.3999999999999915" height="48.5" fill="#111"/>
<rect x="131" y="6" width="3" height="48.5" fill="#111"/>
<path class="m" d="M137,6 V54.5"/>
<path class="n" d="M112,11.7 H140 M112,51.5 H140"/>
<g transform="translate(102.3,30.55) scale(1,1)">
<ellipse cx="0" cy="0" rx="8" ry="19.2" fill="none" stroke="#151515" stroke-width="2.6"/>
<path class="m" d="M0.5,-18.5 Q-9.5,0 0.5,18.5"/>
<path class="m" d="M-4.2,-6 H7.6 M-4.2,-1 H7.6"/>
<path class="m" d="M-8.6,-4 Q-9.4,8 -4.5,16.5"/>
</g>
</g>
<path class="k" d="M267,993.6 H343 M290,999.6 H429.6 M267,1005.2 H343"/>
<rect class="k" x="265.0" y="994.6" width="24.0" height="10.3" rx="2"/>
<path class="k" d="M282.0,993.6L282.0,1005.2"/>
<path class="k" d="M301.0,993.6L301.0,1005.2"/>
<path class="k" d="M312.5,993.6L312.5,1005.2"/>
<path class="k" d="M417.5,993.6L417.5,1005.6"/>
<path class="k" d="M429.5,993.6L429.5,1005.6"/>
<rect x="311" y="987.6" width="3.8" height="24" fill="#111"/>
<path class="k" d="M267,1055 H343 M290,1061 H429.6 M267,1066.6 H343"/>
<rect class="k" x="265.0" y="1056.0" width="24.0" height="10.3" rx="2"/>
<path class="k" d="M282.0,1055.0L282.0,1066.6"/>
<path class="k" d="M301.0,1055.0L301.0,1066.6"/>
<path class="k" d="M312.5,1055.0L312.5,1066.6"/>
<path class="k" d="M417.5,1055.0L417.5,1067.0"/>
<path class="k" d="M429.5,1055.0L429.5,1067.0"/>
<rect x="311" y="1049" width="3.8" height="24" fill="#111"/>
<path class="k" d="M452.5,993.6L452.5,999.6"/>
<path class="k" d="M558.0,993.6L558.0,999.6"/>
<path class="m" d="M483.6,993.6L570.6,993.6"/>
<rect class="kf" x="240.5" y="981.4" width="19.2" height="33.0" rx="1.5"/>
<path class="m" d="M253.3,981.4 V1014.4 M240.5,984.2 H253.3 M240.5,1010.7 H253.3"/>
<rect class="n" x="254.6" y="997.0" width="4.4" height="4.0"/>
<rect class="n" x="254.6" y="1003.0" width="4.4" height="4.0"/>
<rect class="n" x="254.6" y="1009.0" width="4.4" height="4.0"/>
<path class="k" d="M243.2,1014.4 V1031 M250.6,1014.4 V1031"/>
<g transform="translate(0,2060.8) scale(1,-1)">
<rect class="kf" x="240.5" y="981.4" width="19.2" height="33.0" rx="1.5"/>
<path class="m" d="M253.3,981.4 V1014.4 M240.5,984.2 H253.3 M240.5,1010.7 H253.3"/>
<rect class="n" x="254.6" y="997.0" width="4.4" height="4.0"/>
<rect class="n" x="254.6" y="1003.0" width="4.4" height="4.0"/>
<rect class="n" x="254.6" y="1009.0" width="4.4" height="4.0"/>
<path class="k" d="M243.2,1014.4 V1031 M250.6,1014.4 V1031"/>
</g>
<path class="t" d="M570.6,939.3L652.0,939.3"/>
<path class="t" d="M576.7,999.4L619.4,999.4"/>
<path class="t" d="M430.0,1120.9L652.0,1120.9"/>
<path class="t" d="M611.7,941.0L611.7,998.0"/>
<path class="t" d="M639.5,941.0L639.5,1119.0"/>
<polygon class="a" points="611.7,939.6 615.1,960.6 608.3,960.6"/>
<polygon class="a" points="611.7,999.2 608.3,978.2 615.1,978.2"/>
<polygon class="a" points="639.5,939.6 642.9,960.6 636.1,960.6"/>
<polygon class="a" points="639.5,1120.6 636.1,1099.6 642.9,1099.6"/>
<text x="603.2" y="985.8" font-size="19.5" textLength="33.3" lengthAdjust="spacingAndGlyphs" transform="rotate(-90 603.2 985.8)" text-anchor="start">9,90</text>
<text x="633.2" y="1060.8" font-size="19.5" textLength="49" lengthAdjust="spacingAndGlyphs" transform="rotate(-90 633.2 1060.8)" text-anchor="start">29,70</text>
<g transform="translate(673.6,-6.4)">
<path class="k" d="M165.8,940.8 Q125,941.8 88.5,948.6 Q83.5,949.8 83.5,955 V1103.5 Q83.5,1108.6 88.5,1109.9 Q125,1116.6 165.8,1117.6"/>
<path class="m" d="M89.3,949 V1109.6"/>
<g transform="translate(-1.5,0)">
<path class="m" d="M85,1007 L10,1009.2 Q2,1010 2,1017.5 V1040.8 Q2,1048 10,1048.7 L85,1050.3"/>
<path class="m" d="M85,1049.6 L12,1047.9"/>
<path class="n" d="M16.5,1012.2 L85,1011.3 M16.5,1043.9 L85,1045.8 M16.2,1009.3 V1048.7"/>
<path class="n" d="M4.2,1017.5 V1041 M4,1016.8 L16,1012.3 M4,1041.5 L16,1043.8"/>
</g></g>
<rect class="k" x="839.5" y="902.5" width="25.5" height="246.8" rx="1.2"/>
<rect class="k" x="865.0" y="938.8" width="26.3" height="171.2"/>
<rect x="865.0" y="938.8" width="26.3" height="2.83" fill="#111"/>
<rect x="865.0" y="941.6" width="26.3" height="2.54" fill="#4a4a4a"/>
<rect x="865.0" y="946.9" width="26.3" height="1.70" fill="#111"/>
<rect x="865.0" y="948.3" width="26.3" height="2.93" fill="#a0a0a0"/>
<rect x="865.0" y="950.8" width="26.3" height="1.70" fill="#111"/>
<rect x="865.0" y="954.7" width="26.3" height="1.70" fill="#111"/>
<rect x="865.0" y="960.0" width="26.3" height="1.70" fill="#111"/>
<rect x="865.0" y="967.0" width="26.3" height="1.70" fill="#111"/>
<rect x="865.0" y="973.0" width="26.3" height="1.70" fill="#111"/>
<rect x="865.0" y="979.5" width="26.3" height="1.95" fill="#111"/>
<rect x="865.0" y="986.2" width="26.3" height="1.70" fill="#111"/>
<rect x="865.0" y="995.6" width="26.3" height="1.70" fill="#111"/>
<rect x="865.0" y="1000.4" width="26.3" height="4.89" fill="#111"/>
<rect x="865.0" y="1008.1" width="26.3" height="4.89" fill="#111"/>
<rect x="865.0" y="1015.8" width="26.3" height="1.70" fill="#111"/>
<rect x="865.0" y="1018.2" width="26.3" height="2.15" fill="#4a4a4a"/>
<rect x="865.0" y="1029.7" width="26.3" height="4.01" fill="#111"/>
<rect x="865.0" y="1036.2" width="26.3" height="5.18" fill="#111"/>
<rect x="865.0" y="1044.7" width="26.3" height="3.62" fill="#111"/>
<rect x="865.0" y="1052.0" width="26.3" height="1.70" fill="#111"/>
<rect x="865.0" y="1061.3" width="26.3" height="1.70" fill="#111"/>
<rect x="865.0" y="1067.5" width="26.3" height="1.76" fill="#111"/>
<rect x="865.0" y="1074.3" width="26.3" height="1.95" fill="#111"/>
<rect x="865.0" y="1080.5" width="26.3" height="1.70" fill="#111"/>
<rect x="865.0" y="1087.5" width="26.3" height="1.70" fill="#111"/>
<rect x="865.0" y="1089.0" width="26.3" height="2.93" fill="#a0a0a0"/>
<rect x="865.0" y="1092.3" width="26.3" height="1.70" fill="#111"/>
<rect x="865.0" y="1096.3" width="26.3" height="1.70" fill="#111"/>
<rect x="865.0" y="1100.5" width="26.3" height="1.70" fill="#111"/>
<rect x="865.0" y="1104.9" width="26.3" height="2.93" fill="#4a4a4a"/>
<rect x="865.0" y="1107.9" width="26.3" height="2.15" fill="#111"/>
<path class="k" d="M891.3,938.8 H904.5 Q907.5,938.8 907.5,942.8 V1106 Q907.5,1110 904.5,1110 H891.3 Z"/>
<path class="k" d="M891.3,945.0L907.0,945.0"/>
<path class="k" d="M891.3,953.5L907.0,953.5"/>
<path class="k" d="M891.3,962.0L907.0,962.0"/>
<path class="k" d="M891.3,973.0L907.0,973.0"/>
<path class="k" d="M891.3,987.7L907.0,987.7"/>
<path class="k" d="M891.3,999.9L907.0,999.9"/>
<path class="k" d="M891.3,1019.0L907.0,1019.0"/>
<path class="k" d="M891.3,1030.1L907.0,1030.1"/>
<path class="k" d="M891.3,1048.7L907.0,1048.7"/>
<path class="k" d="M891.3,1060.7L907.0,1060.7"/>
<path class="k" d="M891.3,1075.6L907.0,1075.6"/>
<path class="k" d="M891.3,1086.6L907.0,1086.6"/>
<path class="k" d="M891.3,1095.1L907.0,1095.1"/>
<path class="k" d="M891.3,1103.6L907.0,1103.6"/>
<path class="n" d="M904.5,953.5L904.5,1095.1"/>
<rect class="m" x="915.7" y="965.0" width="14.3" height="6.5" rx="1.5"/>
<path class="kf" d="M914.2,971 H957 Q960,971 960,974 V993.5 Q960,996.5 957,996.5 H914.2 V987.5 H911.2 V977.7 H914.2 Z"/>
<path class="m" d="M914.2,977.7 H960 M911.2,981.5 H960 M914.2,987.5 H960"/>
<path class="k" d="M916.2,996.5 V1025 M920.2,996.5 V1025 M924.7,996.5 V1025 M950.2,996.5 V1025"/>
<path class="m" d="M907.7,962 L914,973"/>
<g transform="translate(0,2050) scale(1,-1)">
<rect class="m" x="915.7" y="965.0" width="14.3" height="6.5" rx="1.5"/>
<path class="kf" d="M914.2,971 H957 Q960,971 960,974 V993.5 Q960,996.5 957,996.5 H914.2 V987.5 H911.2 V977.7 H914.2 Z"/>
<path class="m" d="M914.2,977.7 H960 M911.2,981.5 H960 M914.2,987.5 H960"/>
<path class="k" d="M916.2,996.5 V1025 M920.2,996.5 V1025 M924.7,996.5 V1025 M950.2,996.5 V1025"/>
<path class="m" d="M907.7,962 L914,973"/>
</g>
<path class="k" d="M950.2,1002.5 H963.3 M950.2,1015.2 H963.3"/>
<path class="m" d="M908.6,962 V1088"/>
<rect x="903.5" y="953" width="2.6" height="143" fill="#8a8a8a"/>
<path class="k" d="M1112,934.7 H966.5 Q963.5,934.7 963.5,937.7 V1114.4 Q963.5,1117.4 966.5,1117.4 H1155 Q1158,1117.4 1158,1114.4 V936.7 Q1158,933.7 1155,933.7 H1112 Z"/>
<path class="k" d="M1146.7,933.7L1146.7,1117.4"/>
<path class="k" d="M1051.0,934.7L1051.0,1117.4"/>
<path class="k" d="M1082.5,934.7L1082.5,1117.4"/>
<rect x="1078.7" y="934.7" width="3" height="182.70000000000005" fill="#8a8a8a"/>
<path class="n" d="M1078.5,934.7L1078.5,1117.4"/>
<path class="k" d="M1104.2,934.7 V1117.4"/>
<rect x="1104.2" y="934.7" width="3.6" height="182.70000000000005" fill="#8a8a8a"/>
<path class="k" d="M1108.0,934.7L1108.0,1117.4"/>
<g transform="translate(1104.5,934.7) scale(-1,1) translate(0,60.9) scale(1,-1)">
<rect class="k" x="92.0" y="6.0" width="48.3" height="48.9" rx="1.5"/>
<path class="k" d="M53.5,11.7 H92"/>
<path class="m" d="M32.5,11.7 V53.4 M41,11.7 V53.4 M47,11.7 V53.4 M27,11.7 H53.5 M27,9.2 H53.5 M25.5,54.9 H53.5"/>
<rect x="47.5" y="51.4" width="6" height="2.5" fill="#222"/>
<rect x="111.3" y="6" width="3.9000000000000057" height="48.9" fill="#111"/>
<rect x="122.4" y="6" width="3.3999999999999915" height="48.9" fill="#111"/>
<rect x="131" y="6" width="3" height="48.9" fill="#111"/>
<path class="m" d="M137,6 V54.9"/>
<path class="n" d="M112,11.7 H140 M112,51.9 H140"/>
<g transform="translate(102.3,30.75) scale(1,1)">
<ellipse cx="0" cy="0" rx="8" ry="19.2" fill="none" stroke="#151515" stroke-width="2.6"/>
<path class="m" d="M0.5,-18.5 Q-9.5,0 0.5,18.5"/>
<path class="m" d="M-4.2,-6 H7.6 M-4.2,-1 H7.6"/>
<path class="m" d="M-8.6,-4 Q-9.4,8 -4.5,16.5"/>
</g>
</g>
<g transform="translate(1104.5,995.6) scale(-1,1)">
<rect class="k" x="92.0" y="6.0" width="48.3" height="49.0" rx="1.5"/>
<path class="k" d="M53.5,11.7 H92"/>
<path class="m" d="M32.5,11.7 V53.5 M41,11.7 V53.5 M47,11.7 V53.5 M27,11.7 H53.5 M27,9.2 H53.5 M25.5,55 H53.5"/>
<rect x="47.5" y="51.5" width="6" height="2.5" fill="#222"/>
<rect x="111.3" y="6" width="3.9000000000000057" height="49" fill="#111"/>
<rect x="122.4" y="6" width="3.3999999999999915" height="49" fill="#111"/>
<rect x="131" y="6" width="3" height="49" fill="#111"/>
<path class="m" d="M137,6 V55"/>
<path class="n" d="M112,11.7 H140 M112,52 H140"/>
<g transform="translate(102.3,30.8) scale(1,1)">
<ellipse cx="0" cy="0" rx="8" ry="19.2" fill="none" stroke="#151515" stroke-width="2.6"/>
<path class="m" d="M0.5,-18.5 Q-9.5,0 0.5,18.5"/>
<path class="m" d="M-4.2,-6 H7.6 M-4.2,-1 H7.6"/>
<path class="m" d="M-8.6,-4 Q-9.4,8 -4.5,16.5"/>
</g>
</g>
<g transform="translate(1104.5,1056.6) scale(-1,1)">
<rect class="k" x="92.0" y="6.0" width="48.3" height="48.8" rx="1.5"/>
<path class="k" d="M53.5,11.7 H92"/>
<path class="m" d="M32.5,11.7 V53.3 M41,11.7 V53.3 M47,11.7 V53.3 M27,11.7 H53.5 M27,9.2 H53.5 M25.5,54.8 H53.5"/>
<rect x="47.5" y="51.3" width="6" height="2.5" fill="#222"/>
<rect x="111.3" y="6" width="3.9000000000000057" height="48.8" fill="#111"/>
<rect x="122.4" y="6" width="3.3999999999999915" height="48.8" fill="#111"/>
<rect x="131" y="6" width="3" height="48.8" fill="#111"/>
<path class="m" d="M137,6 V54.8"/>
<path class="n" d="M112,11.7 H140 M112,51.8 H140"/>
<g transform="translate(102.3,30.7) scale(1,1)">
<ellipse cx="0" cy="0" rx="8" ry="19.2" fill="none" stroke="#151515" stroke-width="2.6"/>
<path class="m" d="M0.5,-18.5 Q-9.5,0 0.5,18.5"/>
<path class="m" d="M-4.2,-6 H7.6 M-4.2,-1 H7.6"/>
<path class="m" d="M-8.6,-4 Q-9.4,8 -4.5,16.5"/>
</g>
</g>
<rect x="964.3" y="940.7" width="3.2" height="170.70000000000005" fill="#8a8a8a"/>
<path class="k" d="M963.5,940.5 H1012 M1050.7,941.7 H1125 M963.5,1111.6000000000001 H1012 M1050.7,1110.4 H1125"/>
<path class="k" d="M975.5,934.7L975.5,941.2"/>
<path class="k" d="M975.5,1110.9L975.5,1117.4"/>
<path class="k" d="M1091.3,934.7L1091.3,941.2"/>
<path class="k" d="M1091.3,1110.9L1091.3,1117.4"/>
<path class="k" d="M1112.7,934.7L1112.7,941.2"/>
<path class="k" d="M1112.7,1110.9L1112.7,1117.4"/>
<path class="k" d="M1118.0,934.7L1118.0,941.2"/>
<path class="k" d="M1118.0,1110.9L1118.0,1117.4"/>
<path class="k" d="M1122.7,934.7L1122.7,941.2"/>
<path class="k" d="M1122.7,1110.9L1122.7,1117.4"/>
<path class="k" d="M963.5,995.6 H1126.7 M1050.7,989.6 H1108 M1050.7,1002.1 H1108 M963.5,989.6 H975.5 M963.5,1001.6 H975.5"/>
<path class="k" d="M975.5,989.6L975.5,1002.1"/>
<path class="k" d="M1091.3,989.6L1091.3,1002.1"/>
<path class="k" d="M1112.7,989.6L1112.7,1002.1"/>
<path class="k" d="M1118.0,989.6L1118.0,1002.1"/>
<path class="k" d="M1122.7,989.6L1122.7,1002.1"/>
<rect x="1078.6" y="984.1" width="3.6" height="24" fill="#111"/>
<path class="k" d="M963.5,1056.6 H1126.7 M1050.7,1050.6 H1108 M1050.7,1063.1 H1108 M963.5,1050.6 H975.5 M963.5,1062.6 H975.5"/>
<path class="k" d="M975.5,1050.6L975.5,1063.1"/>
<path class="k" d="M1091.3,1050.6L1091.3,1063.1"/>
<path class="k" d="M1112.7,1050.6L1112.7,1063.1"/>
<path class="k" d="M1118.0,1050.6L1118.0,1063.1"/>
<path class="k" d="M1122.7,1050.6L1122.7,1063.1"/>
<rect x="1078.6" y="1045.1" width="3.6" height="24" fill="#111"/>
<path class="k" d="M1108,941.7 H1124 Q1126.7,941.7 1126.7,944.2 V987.1 Q1126.7,989.6 1124,989.6 H1108"/>
<path class="k" d="M1108,1002.6 H1124 Q1126.7,1002.6 1126.7,1005.1 V1048.1 Q1126.7,1050.6 1124,1050.6 H1108"/>
<path class="k" d="M1108,1063.6 H1124 Q1126.7,1063.6 1126.7,1066.1 V1108.9 Q1126.7,1111.4 1124,1111.4 H1108"/>
<path class="t" d="M1158.0,934.3L1200.0,934.3"/>
<path class="t" d="M1158.0,1117.4L1200.0,1117.4"/>
<path class="t" d="M1191.2,936.0L1191.2,1116.0"/>
<polygon class="a" points="1191.2,934.5 1194.6,955.5 1187.8,955.5"/>
<polygon class="a" points="1191.2,1117.2 1187.8,1096.2 1194.6,1096.2"/>
<text x="1185" y="1050.8" font-size="19.5" textLength="50" lengthAdjust="spacingAndGlyphs" transform="rotate(-90 1185 1050.8)" text-anchor="start">29,70</text>
</g>
</svg>
</body></html>
